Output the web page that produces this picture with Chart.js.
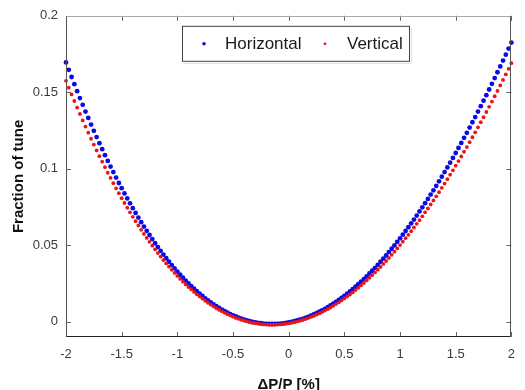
<!DOCTYPE html>
<html>
<head>
<meta charset="utf-8">
<script src="https://cdn.jsdelivr.net/npm/chart.js@4.4.0/dist/chart.umd.min.js"></script>
<style>
  html, body { margin: 0; padding: 0; background: #fff; }
  #chart { display: block; }
</style>
</head>
<body>
<canvas id="chart" width="525" height="390"></canvas>
<script>
// momentum deviation dP/P [%]
const deltaP = [
  -2, -1.975, -1.95, -1.925, -1.9, -1.875, -1.85, -1.825, -1.8, -1.775,
  -1.75, -1.725, -1.7, -1.675, -1.65, -1.625, -1.6, -1.575, -1.55, -1.525,
  -1.5, -1.475, -1.45, -1.425, -1.4, -1.375, -1.35, -1.325, -1.3, -1.275,
  -1.25, -1.225, -1.2, -1.175, -1.15, -1.125, -1.1, -1.075, -1.05, -1.025,
  -1, -0.975, -0.95, -0.925, -0.9, -0.875, -0.85, -0.825, -0.8, -0.775,
  -0.75, -0.725, -0.7, -0.675, -0.65, -0.625, -0.6, -0.575, -0.55, -0.525,
  -0.5, -0.475, -0.45, -0.425, -0.4, -0.375, -0.35, -0.325, -0.3, -0.275,
  -0.25, -0.225, -0.2, -0.175, -0.15, -0.125, -0.1, -0.075, -0.05, -0.025,
  0, 0.025, 0.05, 0.075, 0.1, 0.125, 0.15, 0.175, 0.2, 0.225,
  0.25, 0.275, 0.3, 0.325, 0.35, 0.375, 0.4, 0.425, 0.45, 0.475,
  0.5, 0.525, 0.55, 0.575, 0.6, 0.625, 0.65, 0.675, 0.7, 0.725,
  0.75, 0.775, 0.8, 0.825, 0.85, 0.875, 0.9, 0.925, 0.95, 0.975,
  1, 1.025, 1.05, 1.075, 1.1, 1.125, 1.15, 1.175, 1.2, 1.225,
  1.25, 1.275, 1.3, 1.325, 1.35, 1.375, 1.4, 1.425, 1.45, 1.475,
  1.5, 1.525, 1.55, 1.575, 1.6, 1.625, 1.65, 1.675, 1.7, 1.725,
  1.75, 1.775, 1.8, 1.825, 1.85, 1.875, 1.9, 1.925, 1.95, 1.975,
  2
];

// fraction of tune, horizontal plane
const horizontal = [
  0.1695, 0.1647, 0.1600, 0.1553, 0.1507, 0.1462, 0.1418, 0.1374, 0.1332, 0.1289,
  0.1248, 0.1207, 0.1167, 0.1128, 0.1089, 0.1051, 0.1014, 0.0978, 0.0942, 0.0907,
  0.0873, 0.0839, 0.0806, 0.0774, 0.0742, 0.0711, 0.0681, 0.0651, 0.0622, 0.0594,
  0.0567, 0.0540, 0.0513, 0.0488, 0.0463, 0.0439, 0.0415, 0.0392, 0.0370, 0.0349,
  0.0328, 0.0307, 0.0288, 0.0269, 0.0250, 0.0233, 0.0216, 0.0199, 0.0183, 0.0168,
  0.0153, 0.0140, 0.0126, 0.0113, 0.0101, 0.0090, 0.0079, 0.0069, 0.0059, 0.0050,
  0.0042, 0.0034, 0.0026, 0.0020, 0.0014, 0.0008, 0.0003, -0.0001, -0.0005, -0.0008,
  -0.0010, -0.0012, -0.0014, -0.0015, -0.0015, -0.0015, -0.0014, -0.0012, -0.0011, -0.0008,
  -0.0005, -0.0001, 0.0003, 0.0008, 0.0013, 0.0019, 0.0025, 0.0032, 0.0039, 0.0047,
  0.0056, 0.0065, 0.0074, 0.0084, 0.0095, 0.0106, 0.0118, 0.0130, 0.0142, 0.0156,
  0.0169, 0.0183, 0.0198, 0.0213, 0.0229, 0.0245, 0.0262, 0.0279, 0.0296, 0.0315,
  0.0333, 0.0352, 0.0372, 0.0392, 0.0412, 0.0433, 0.0455, 0.0477, 0.0499, 0.0522,
  0.0545, 0.0569, 0.0593, 0.0618, 0.0643, 0.0668, 0.0694, 0.0721, 0.0748, 0.0775,
  0.0803, 0.0831, 0.0859, 0.0888, 0.0918, 0.0948, 0.0978, 0.1009, 0.1040, 0.1071,
  0.1103, 0.1136, 0.1169, 0.1202, 0.1235, 0.1269, 0.1304, 0.1338, 0.1374, 0.1409,
  0.1445, 0.1481, 0.1518, 0.1555, 0.1593, 0.1631, 0.1669, 0.1707, 0.1746, 0.1786,
  0.1825
];

// fraction of tune, vertical plane
const vertical = [
  0.1575, 0.1530, 0.1486, 0.1443, 0.1400, 0.1358, 0.1316, 0.1276, 0.1236, 0.1196,
  0.1158, 0.1120, 0.1082, 0.1046, 0.1010, 0.0974, 0.0940, 0.0906, 0.0872, 0.0840,
  0.0807, 0.0776, 0.0745, 0.0715, 0.0686, 0.0657, 0.0629, 0.0601, 0.0574, 0.0548,
  0.0522, 0.0497, 0.0473, 0.0449, 0.0426, 0.0403, 0.0381, 0.0360, 0.0339, 0.0319,
  0.0299, 0.0280, 0.0262, 0.0244, 0.0227, 0.0211, 0.0195, 0.0179, 0.0165, 0.0151,
  0.0137, 0.0124, 0.0112, 0.0100, 0.0088, 0.0078, 0.0068, 0.0058, 0.0049, 0.0041,
  0.0033, 0.0025, 0.0019, 0.0012, 0.0007, 0.0002, -0.0003, -0.0007, -0.0010, -0.0013,
  -0.0016, -0.0018, -0.0019, -0.0020, -0.0020, -0.0020, -0.0019, -0.0018, -0.0016, -0.0013,
  -0.0011, -0.0007, -0.0003, 0.0001, 0.0006, 0.0011, 0.0017, 0.0024, 0.0031, 0.0038,
  0.0046, 0.0054, 0.0063, 0.0073, 0.0082, 0.0093, 0.0104, 0.0115, 0.0127, 0.0139,
  0.0152, 0.0165, 0.0178, 0.0192, 0.0207, 0.0222, 0.0238, 0.0253, 0.0270, 0.0287,
  0.0304, 0.0322, 0.0340, 0.0358, 0.0378, 0.0397, 0.0417, 0.0437, 0.0458, 0.0479,
  0.0501, 0.0523, 0.0546, 0.0568, 0.0592, 0.0616, 0.0640, 0.0664, 0.0689, 0.0715,
  0.0740, 0.0767, 0.0793, 0.0820, 0.0847, 0.0875, 0.0903, 0.0932, 0.0961, 0.0990,
  0.1020, 0.1050, 0.1080, 0.1111, 0.1142, 0.1174, 0.1206, 0.1238, 0.1271, 0.1304,
  0.1337, 0.1371, 0.1405, 0.1439, 0.1474, 0.1509, 0.1545, 0.1581, 0.1617, 0.1653,
  0.1690
];

const xTicks = [-2, -1.5, -1, -0.5, 0, 0.5, 1, 1.5, 2];
const yTicks = [0, 0.05, 0.1, 0.15, 0.2];

const FONT = "'Liberation Sans', Arial, sans-serif";
Chart.defaults.font.family = FONT;
Chart.defaults.color = '#3a3a3a';

function toPoints(ys) {
  return deltaP.map((x, i) => ({ x: x, y: ys[i] }));
}

// matlab style box with inward ticks + legend inside the axes
const boxPlugin = {
  id: 'box',
  afterDraw(chart) {
    const ctx = chart.ctx;
    const a = chart.chartArea;
    const xs = chart.scales.x;
    const ys = chart.scales.y;
    ctx.save();
    ctx.lineWidth = 1;

    ctx.strokeStyle = '#666';
    ctx.beginPath();
    xTicks.forEach(v => {
      const px = Math.round(xs.getPixelForValue(v)) + 0.5;
      ctx.moveTo(px, a.bottom); ctx.lineTo(px, a.bottom - 5);
      ctx.moveTo(px, a.top); ctx.lineTo(px, a.top + 5);
    });
    yTicks.forEach(v => {
      const py = Math.round(ys.getPixelForValue(v)) + 0.5;
      ctx.moveTo(a.left, py); ctx.lineTo(a.left + 5, py);
      ctx.moveTo(a.right, py); ctx.lineTo(a.right - 5, py);
    });
    ctx.stroke();

    const l = Math.round(a.left) + 0.5, r = Math.round(a.right) - 0.5;
    const t = Math.round(a.top) + 0.5, b = Math.round(a.bottom) - 0.5;
    ctx.strokeStyle = '#aaa';
    ctx.beginPath(); ctx.moveTo(l, t); ctx.lineTo(r, t); ctx.stroke();
    ctx.strokeStyle = '#555';
    ctx.beginPath(); ctx.moveTo(l, t); ctx.lineTo(l, b); ctx.stroke();
    ctx.beginPath(); ctx.moveTo(r, t); ctx.lineTo(r, b); ctx.stroke();
    ctx.strokeStyle = '#222';
    ctx.beginPath(); ctx.moveTo(l, b); ctx.lineTo(r, b); ctx.stroke();

    // legend
    const lx = a.left + 116, ly = a.top + 10, lw = 228, lh = 36;
    ctx.fillStyle = '#fff';
    ctx.fillRect(lx, ly, lw, lh);
    ctx.strokeStyle = '#ddd';
    ctx.beginPath();
    ctx.moveTo(lx + 2, ly + lh + 1.5); ctx.lineTo(lx + lw + 1.5, ly + lh + 1.5); ctx.lineTo(lx + lw + 1.5, ly + 2);
    ctx.stroke();
    ctx.strokeStyle = '#444';
    ctx.strokeRect(lx + 0.5, ly + 0.5, lw - 1, lh - 1);

    const cy = ly + lh / 2;
    const entries = [
      { ds: chart.data.datasets[1], mx: lx + 22, tx: lx + 43 },
      { ds: chart.data.datasets[0], mx: lx + 143, tx: lx + 165 }
    ];
    ctx.font = '17px ' + FONT;
    ctx.textBaseline = 'middle';
    ctx.textAlign = 'left';
    entries.forEach(e => {
      ctx.fillStyle = e.ds.pointBackgroundColor;
      ctx.beginPath();
      ctx.arc(e.mx, cy, e.ds.pointRadius * 0.75, 0, Math.PI * 2);
      ctx.fill();
      ctx.fillStyle = '#1a1a1a';
      ctx.fillText(e.ds.label, e.tx, cy + 1);
    });
    ctx.restore();
  }
};

new Chart(document.getElementById('chart'), {
  type: 'scatter',
  data: {
    datasets: [
      {
        label: 'Vertical',
        data: toPoints(vertical),
        pointBackgroundColor: 'rgb(235, 20, 20)',
        pointBorderWidth: 0,
        pointRadius: 1.9,
        order: 1,
        clip: false
      },
      {
        label: 'Horizontal',
        data: toPoints(horizontal),
        pointBackgroundColor: 'rgb(10, 10, 230)',
        pointBorderWidth: 0,
        pointRadius: 2.4,
        order: 2,
        clip: false
      }
    ]
  },
  options: {
    responsive: false,
    animation: false,
    devicePixelRatio: 1,
    layout: { padding: { left: 0, right: 2, top: 13, bottom: 0 } },
    plugins: {
      legend: { display: false },
      tooltip: { enabled: false }
    },
    scales: {
      x: {
        type: 'linear',
        min: -2,
        max: 2,
        afterBuildTicks: s => { s.ticks = xTicks.map(v => ({ value: v })); },
        afterFit: s => { s.height = 53; },
        grid: { display: false, drawTicks: false },
        border: { display: false },
        ticks: {
          padding: 10,
          font: { size: 13 },
          maxRotation: 0,
          callback: v => String(v)
        },
        title: {
          display: true,
          text: 'ΔP/P [%]',
          font: { size: 15, weight: 'bold' },
          color: '#111',
          padding: { top: 0, bottom: -4 }
        }
      },
      y: {
        type: 'linear',
        min: -0.01,
        max: 0.2,
        afterBuildTicks: s => { s.ticks = yTicks.map(v => ({ value: v })); },
        afterFit: s => { s.width = 66; },
        grid: { display: false, drawTicks: false },
        border: { display: false },
        ticks: {
          padding: 8,
          font: { size: 13 },
          callback: v => String(v)
        },
        title: {
          display: true,
          text: 'Fraction of tune',
          font: { size: 15, weight: 'bold' },
          color: '#111',
          padding: { top: 10, bottom: 0 }
        }
      }
    }
  },
  plugins: [boxPlugin]
});
</script>
</body>
</html>
